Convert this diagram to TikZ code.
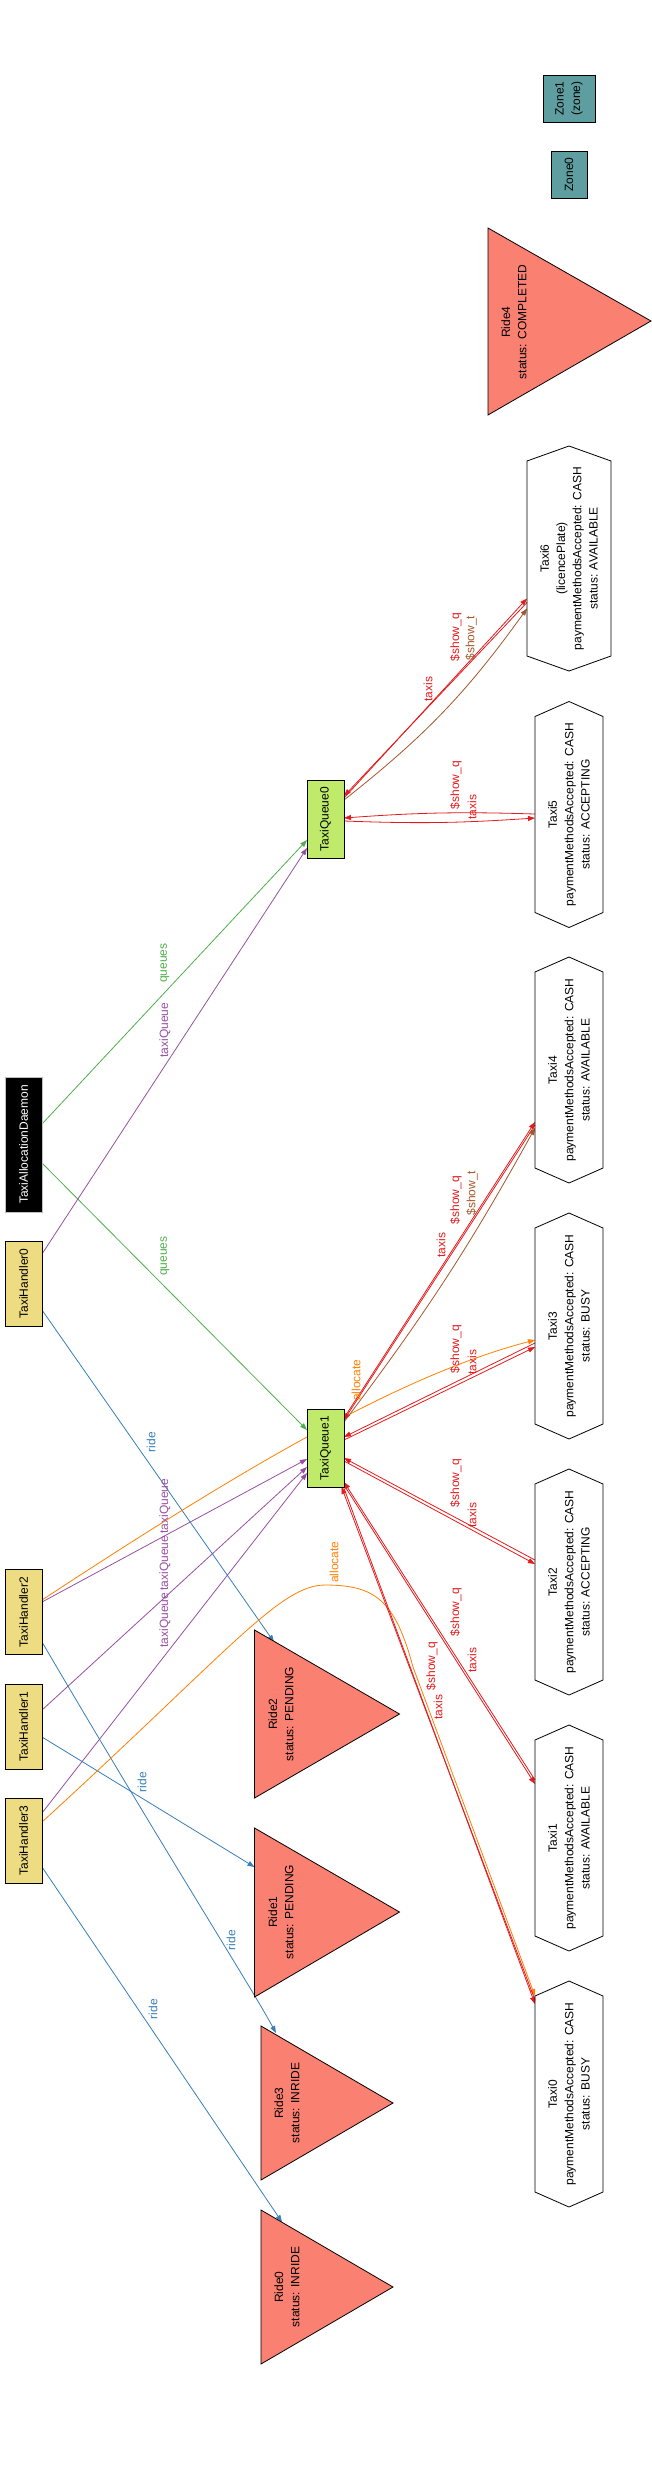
\documentclass[tikz,border=0pt]{standalone}
\usepackage{fontspec}
\setmainfont{Liberation Sans}
\usetikzlibrary{calc,arrows.meta,backgrounds}
\definecolor{cq}{HTML}{4DAF4A}
\definecolor{ctq}{HTML}{984EA3}
\definecolor{cride}{HTML}{377EB8}
\definecolor{call}{HTML}{FF7F00}
\definecolor{cred}{HTML}{E41A1C}
\definecolor{cbrown}{HTML}{A65628}
\definecolor{qfill}{HTML}{BFEA6A}
\definecolor{hfill}{HTML}{EDDC82}
\definecolor{zfill}{HTML}{5F9EA0}
\definecolor{rfill}{HTML}{FA8072}
\newcommand{\hexat}[3]{\draw[hexline] ($(#1)+(0,-#3-15)$) -- ($(#1)+(#2,-#3)$) -- ($(#1)+(#2,#3)$) -- ($(#1)+(0,#3+15)$) -- ($(#1)+(-#2,#3)$) -- ($(#1)+(-#2,-#3)$) -- cycle;}
\tikzset{
  base/.style={font=\fontsize{12}{16.3}\selectfont, inner sep=0pt, align=center, rotate=90},
  lbl/.style={font=\fontsize{12}{14}\selectfont, inner sep=0pt, rotate=90},
  qbox/.style={base, draw, line width=0.8pt, fill=qfill, minimum width=78pt, minimum height=37pt},
  hbox/.style={base, draw, line width=0.8pt, fill=hfill, minimum width=85pt, minimum height=37pt},
  dbox/.style={base, draw=gray!50, line width=0.8pt, fill=black, text=white, minimum width=135pt, minimum height=37pt},
  zbox/.style={base, draw, line width=0.8pt, fill=zfill, minimum width=47pt},
  hexline/.style={draw, line width=0.8pt},
  ridetri/.style={draw, line width=0.8pt, fill=rfill},
  edge/.style={line width=0.8pt, -{Triangle[length=7pt,width=5pt]}},
  eq/.style={edge, draw=cq},
  etq/.style={edge, draw=ctq},
  eride/.style={edge, draw=cride},
  eall/.style={edge, draw=call},
  ered/.style={edge, draw=cred},
  ebrown/.style={edge, draw=cbrown},
}
\begin{document}
\begin{tikzpicture}[x=1pt,y=-1pt]
\useasboundingbox (0,0) rectangle (652,2471);

% zones
\node[zbox, minimum height=52pt] (z1) at (569,98.5) {Zone1\\(zone)};
\node[zbox, minimum height=36pt] (z0) at (569,174.5) {Zone0};

% rides
\draw[ridetri] (488,228) -- (651,321) -- (488,415) -- cycle;
\node[base] (r4) at (514,322) {Ride4\\status: COMPLETED};
\draw[ridetri] (254.5,1630) -- (399.5,1714) -- (254.5,1798) -- cycle;
\node[base] (r2) at (281,1714) {Ride2\\status: PENDING};
\draw[ridetri] (254.5,1828) -- (399.5,1912) -- (254.5,1997) -- cycle;
\node[base] (r1) at (281,1912) {Ride1\\status: PENDING};
\draw[ridetri] (261,2026) -- (393,2103) -- (261,2180) -- cycle;
\node[base] (r3) at (287,2103) {Ride3\\status: INRIDE};
\draw[ridetri] (261,2210) -- (393,2287) -- (261,2364) -- cycle;
\node[base] (r0) at (287,2287) {Ride0\\status: INRIDE};

% taxis
\node[base] (t6) at (569,558.5) {Taxi6\\(licencePlate)\\paymentMethodsAccepted: CASH\\status: AVAILABLE};
\hexat{t6}{42}{97.5}
\node[base] (t5) at (569,814.5) {Taxi5\\paymentMethodsAccepted: CASH\\status: ACCEPTING};
\hexat{t5}{34}{98}
\node[base] (t4) at (569,1070) {Taxi4\\paymentMethodsAccepted: CASH\\status: AVAILABLE};
\hexat{t4}{34}{98}
\node[base] (t3) at (569,1326) {Taxi3\\paymentMethodsAccepted: CASH\\status: BUSY};
\hexat{t3}{34}{98}
\node[base] (t2) at (569,1582) {Taxi2\\paymentMethodsAccepted: CASH\\status: ACCEPTING};
\hexat{t2}{34}{98}
\node[base] (t1) at (569,1838) {Taxi1\\paymentMethodsAccepted: CASH\\status: AVAILABLE};
\hexat{t1}{34}{98}
\node[base] (t0) at (569,2094) {Taxi0\\paymentMethodsAccepted: CASH\\status: BUSY};
\hexat{t0}{34}{98}

% queues, daemon, handlers
\node[qbox] (q0) at (325.5,819) {TaxiQueue0};
\node[qbox] (q1) at (325.5,1448) {TaxiQueue1};
\node[dbox] (d) at (23.5,1144.5) {TaxiAllocationDaemon};
\node[hbox] (h0) at (23.5,1283.5) {TaxiHandler0};
\node[hbox] (h2) at (23.5,1612) {TaxiHandler2};
\node[hbox] (h1) at (23.5,1726.5) {TaxiHandler1};
\node[hbox] (h3) at (23.5,1840.5) {TaxiHandler3};

\begin{scope}[on background layer]
% green
\draw[eq] ($(d)+(18.5,-20.5)$) -- ($(q0)+(-18.5,21)$);
\draw[eq] ($(d)+(18.5,18.5)$) -- ($(q1)+(-18.5,-18)$);
% purple
\draw[etq] ($(h0)+(18.5,-29.5)$) -- ($(q0)+(-18.5,29)$);
\draw[etq] ($(h2)+(18.5,-10)$) -- ($(q1)+(-18.5,11)$);
\draw[etq] ($(h1)+(18.5,-16.5)$) -- ($(q1)+(-18.5,19)$);
\draw[etq] ($(h3)+(18.5,-27.5)$) -- ($(q1)+(-18.5,25)$);
% blue
\draw[eride] ($(h0)+(18.5,26.5)$) -- ($(r2)+(-7,-72)$);
\draw[eride] ($(h1)+(18.5,10.5)$) -- ($(r1)+(-26.5,-45)$);
\draw[eride] ($(h2)+(18.5,30)$) .. controls (170,1860) and (250,1985) .. ($(r3)+(-11,-70)$);
\draw[eride] ($(h3)+(18.5,26.5)$) -- ($(r0)+(-5,-65)$);
% orange
\draw[eall] ($(h2)+(18.5,-12)$) .. controls (240,1470) and (400,1375) .. ($(t3)+(-34,14)$);
\draw[eall] ($(h3)+(18.5,-18.5)$) .. controls (230,1650) and (280,1585) .. (325,1585) .. controls (375,1585) and (395,1600) .. (413,1667) -- ($(t0)+(-34,-98)$);
% red: queue0
\draw[ered] ($(q0)+(18.5,-21)$) -- ($(t6)+(-42,40)$);
\draw[ered] ($(t6)+(-42,44)$) -- ($(q0)+(18.5,-23)$);
\draw[ebrown] ($(q0)+(18.5,-19)$) to[bend right=8] ($(t6)+(-42,50)$);
\draw[ered] ($(t5)+(-34,-0.5)$) to[bend right=3] ($(q0)+(18.5,-1)$);
\draw[ered] ($(q0)+(18.5,2)$) to[bend right=3] ($(t5)+(-34,3.5)$);
% red: queue1
\draw[ered] ($(q1)+(18.5,-30)$) -- ($(t4)+(-34,52)$);
\draw[ered] ($(t4)+(-34,55)$) -- ($(q1)+(18.5,-28)$);
\draw[ebrown] ($(q1)+(18.5,-26)$) to[bend right=4] ($(t4)+(-34,58)$);
\draw[ered] ($(t3)+(-34,17)$) -- ($(q1)+(18.5,-11)$);
\draw[ered] ($(q1)+(18.5,-8)$) -- ($(t3)+(-34,21)$);
\draw[ered] ($(t2)+(-34,-22)$) -- ($(q1)+(18.5,10)$);
\draw[ered] ($(q1)+(18.5,13)$) -- ($(t2)+(-34,-18)$);
\draw[ered] ($(t1)+(-34,-58)$) -- ($(q1)+(18.5,34)$);
\draw[ered] ($(q1)+(18.5,37)$) -- ($(t1)+(-34,-54)$);
\draw[ered] ($(t0)+(-34,-94)$) -- ($(q1)+(16,39)$);
\draw[ered] ($(q1)+(18,39)$) -- ($(t0)+(-34,-90)$);
\end{scope}

% edge labels
\node[lbl,text=cq] (lq0) at (165,963) {queues};
\node[lbl,text=ctq] (ltq0) at (165,1030) {taxiQueue};
\node[lbl,text=cq] (lq1) at (165,1256) {queues};
\node[lbl,text=cride] (lr2) at (151,1442) {ride};
\node[lbl,text=ctq] (ltqa) at (165,1506) {taxiQueue};
\node[lbl,text=ctq] (ltqb) at (165,1563) {taxiQueue};
\node[lbl,text=ctq] (ltqc) at (165,1620) {taxiQueue};
\node[lbl,text=cride] (lr1) at (142,1782) {ride};
\node[lbl,text=cride] (lr3) at (231,1940) {ride};
\node[lbl,text=cride] (lr0) at (153,2009) {ride};
\node[lbl,text=call] (la3) at (356,1380) {allocate};
\node[lbl,text=call] (la0) at (334,1562) {allocate};
% red labels
\node[lbl,text=cred] (l6a) at (428,689) {taxis};
\node[lbl,text=cred] (l6b) at (456,637) {\$show\_q};
\node[lbl,text=cbrown] (l6c) at (471,638) {\$show\_t};
\node[lbl,text=cred] (l5a) at (456,785) {\$show\_q};
\node[lbl,text=cred] (l5b) at (472,807) {taxis};
\node[lbl,text=cred] (l4a) at (441,1245) {taxis};
\node[lbl,text=cred] (l4b) at (456,1200) {\$show\_q};
\node[lbl,text=cbrown] (l4c) at (472,1193) {\$show\_t};
\node[lbl,text=cred] (l3a) at (456,1349) {\$show\_q};
\node[lbl,text=cred] (l3b) at (472,1362) {taxis};
\node[lbl,text=cred] (l2a) at (456,1483) {\$show\_q};
\node[lbl,text=cred] (l2b) at (472,1515) {taxis};
\node[lbl,text=cred] (l1a) at (456,1612) {\$show\_q};
\node[lbl,text=cred] (l1b) at (472,1660) {taxis};
\node[lbl,text=cred] (l0a) at (432,1666) {\$show\_q};
\node[lbl,text=cred] (l0b) at (438,1707) {taxis};
\end{tikzpicture}
\end{document}
